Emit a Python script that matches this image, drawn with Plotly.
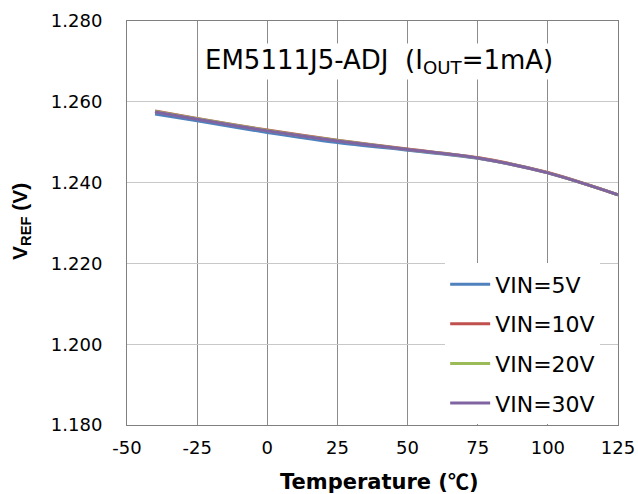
import plotly.graph_objects as go

temps = [-40, -25, 0, 25, 50, 75, 100, 125]
vin5 = [1.2570, 1.2553, 1.2524, 1.2499, 1.2480, 1.2460, 1.2424, 1.2370]
vin10 = [1.2577, 1.2559, 1.2530, 1.2505, 1.2483, 1.2462, 1.2425, 1.2370]
vin20 = [1.2576, 1.2558, 1.2529, 1.2504, 1.2482, 1.2461, 1.2424, 1.2370]
vin30 = [1.2575, 1.2557, 1.2528, 1.2503, 1.2482, 1.2461, 1.2424, 1.2370]
names = ["VIN=5V", "VIN=10V", "VIN=20V", "VIN=30V"]
colors = ["#4F81BD", "#C0504D", "#9BBB59", "#8064A2"]
xticks = [-50, -25, 0, 25, 50, 75, 100, 125]
xticktext = ["-50", "-25", "0", "25", "50", "75", "100", "125"]
yticks = [1.18, 1.20, 1.22, 1.24, 1.26, 1.28]

FONT = "DejaVu Sans"
fig = go.Figure()
for i, (nm, ys) in enumerate(zip(names, [vin5, vin10, vin20, vin30])):
    fig.add_trace(go.Scatter(
        x=temps, y=ys, mode="lines", name=nm, legendgroup=nm,
        line=dict(color=colors[i], width=3, shape="spline", smoothing=0.8),
    ))

fig.update_layout(
    width=638, height=494,
    margin=dict(l=127, r=20, t=21, b=69),
    paper_bgcolor="white", plot_bgcolor="white",
    font=dict(family=FONT, color="black"),
    showlegend=True,
    legend=dict(
        x=0.648, y=0.40, xanchor="left", yanchor="top",
        bgcolor="white", borderwidth=0,
        font=dict(family=FONT, size=22, color="black"),
        traceorder="grouped", tracegroupgap=8,
        itemwidth=40,
    ),
    xaxis=dict(
        range=[-50, 125], tickvals=xticks, ticktext=xticktext, automargin=False,
        showgrid=True, gridcolor="#8c8c8c", gridwidth=1,
        showline=True, linecolor="#808080", linewidth=1, mirror=True,
        ticks="", ticklabelstandoff=6, tickfont=dict(family=FONT, size=18, color="black"),
        zeroline=False,
    ),
    yaxis=dict(
        range=[1.18, 1.28], tickvals=yticks, tickformat=".3f", automargin=False,
        showgrid=True, gridcolor="#c8c8c8", gridwidth=1,
        showline=True, linecolor="#808080", linewidth=1, mirror=True,
        ticks="", ticklabelstandoff=20, tickfont=dict(family=FONT, size=18, color="black"),
        zeroline=False,
    ),
    annotations=[
        dict(
            text="EM5111J5-ADJ  (I<sub>OUT</sub>=1mA)", x=0.513, y=0.90, xref="paper", yref="paper",
            xanchor="center", yanchor="middle", showarrow=False,
            font=dict(family=FONT, size=26, color="black"), bgcolor="white",
        ),
        dict(
            text="<b>Temperature (<span style=\"font-family:'Noto Sans CJK SC'\">℃</span>)</b>",
            x=0.515, y=-0.136, xref="paper", yref="paper",
            xanchor="center", yanchor="middle", showarrow=False,
            font=dict(family=FONT, size=21, color="black"),
        ),
        dict(
            text="<b>V<sub>REF</sub> (V)</b>", textangle=-90,
            x=-0.216, y=0.505, xref="paper", yref="paper",
            xanchor="center", yanchor="middle", showarrow=False,
            font=dict(family="Liberation Sans", size=21, color="black"),
        ),
    ],
)

fig.write_html("out.html")
